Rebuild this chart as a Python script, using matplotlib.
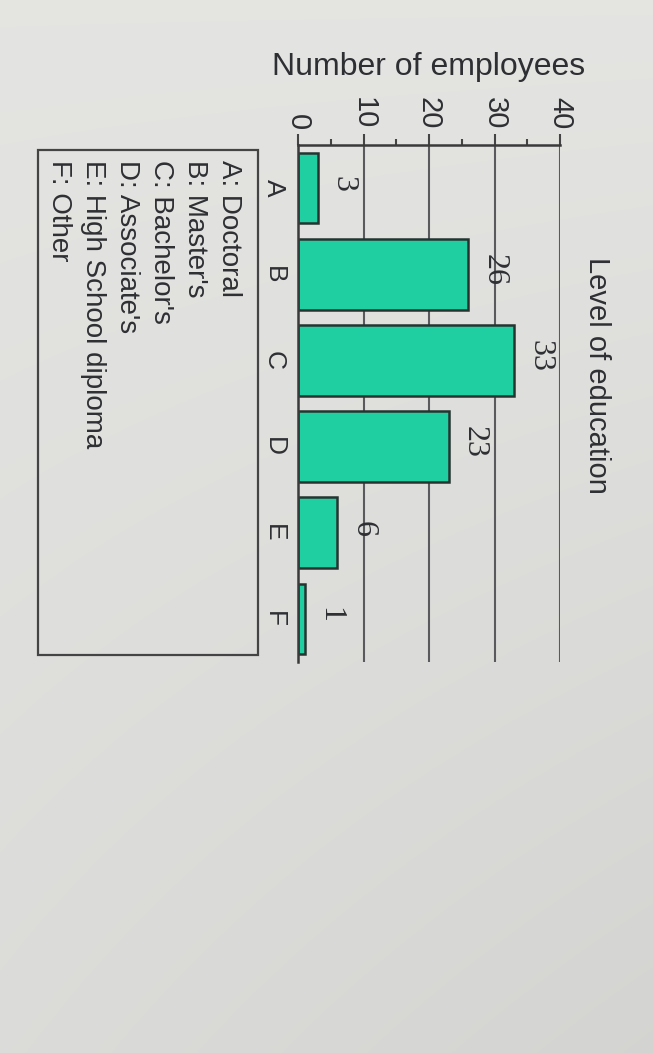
import matplotlib
matplotlib.use('Agg')
import matplotlib.pyplot as plt
import numpy as np
from matplotlib.patches import Rectangle

categories = ['A', 'B', 'C', 'D', 'E', 'F']
employees = [3, 26, 33, 23, 6, 1]
legend_labels = ['A: Doctoral', "B: Master's", "C: Bachelor's", "D: Associate's",
                 'E: High School diploma', 'F: Other']
value_ticks = [0, 10, 20, 30, 40]

plt.rcParams['font.family'] = ['Liberation Sans', 'DejaVu Sans']
txt = '#2e2f33'
bg = '#dcdcd8'

W, H = 653, 1053
fig = plt.figure(figsize=(W / 100, H / 100), dpi=100, facecolor=bg)

# soft photo-like shading behind everything
bax = fig.add_axes([0, 0, 1, 1], zorder=-10)
yy, xx = np.mgrid[0:1:H * 1j, 0:1:W * 1j]
shade = 0.895 - 0.035 * yy - 0.03 * xx * yy
rgb = np.dstack([shade, shade, shade * 0.99])
bax.imshow(rgb, aspect='auto', extent=[0, 1, 1, 0], interpolation='nearest')
bax.set_xlim(0, 1)
bax.set_ylim(1, 0)
bax.axis('off')

# axes placed in pixel terms, chart is drawn turned 90 degrees clockwise
left, right, top, bottom = 298, 560, 145, 662
ax = fig.add_axes([left / W, 1 - bottom / H, (right - left) / W, (bottom - top) / H])
ax.set_facecolor('none')

pos = range(len(categories))
ax.barh(pos, employees, height=0.82, color='#1fcfa2', edgecolor='#26332f',
        linewidth=1.8, zorder=3)
ax.set_xlim(0, 40)
ax.set_ylim(len(categories) - 0.5, -0.5)

# value axis on top
ax.xaxis.tick_top()
ax.set_xticks(value_ticks)
ax.set_xticks([5, 15, 25, 35], minor=True)
ax.set_xticklabels([str(t) for t in value_ticks], rotation=270, fontsize=21, color=txt)
ax.tick_params(axis='x', which='major', length=8, width=1.5, color='#444', pad=3)
ax.tick_params(axis='x', which='minor', length=4, width=1.5, color='#444')
ax.xaxis.grid(True, color='#5a5a5e', linewidth=1.5, zorder=1)

# categories on the left
ax.set_yticks(list(pos))
ax.set_yticklabels(categories, rotation=270, fontsize=19, color=txt, va='center')
ax.tick_params(axis='y', length=0, pad=9)

for s in ['right', 'bottom']:
    ax.spines[s].set_visible(False)
for s in ['top', 'left']:
    ax.spines[s].set_color('#3a3a3a')
    ax.spines[s].set_linewidth(1.8)
    ax.spines[s].set_zorder(4)

# value labels beyond the bar ends
for i, v in enumerate(employees):
    ax.annotate(str(v), (v, i), xytext=(8, 3), textcoords='offset points',
                rotation=270, ha='left', va='center', fontsize=23, color=txt,
                family=['Liberation Serif', 'DejaVu Serif'])

fig.text(272 / W, 1 - 67 / H, 'Number of employees', ha='left', va='center',
         fontsize=23, color=txt)
fig.text(597 / W, 1 - 375 / H, 'Level of education', rotation=270,
         ha='center', va='center', fontsize=21, color=txt)

# legend box below the chart
fig.patches.append(Rectangle((38 / W, 1 - 655 / H), 220 / W, 505 / H,
                             transform=fig.transFigure, fill=False,
                             edgecolor='#444444', linewidth=1.6))
for i, lab in enumerate(legend_labels):
    fig.text((229 - 34 * i) / W, 1 - 160 / H, lab, rotation=270,
             ha='center', va='top', fontsize=20, color=txt)

fig.savefig('out.png', dpi=100, facecolor=bg)
